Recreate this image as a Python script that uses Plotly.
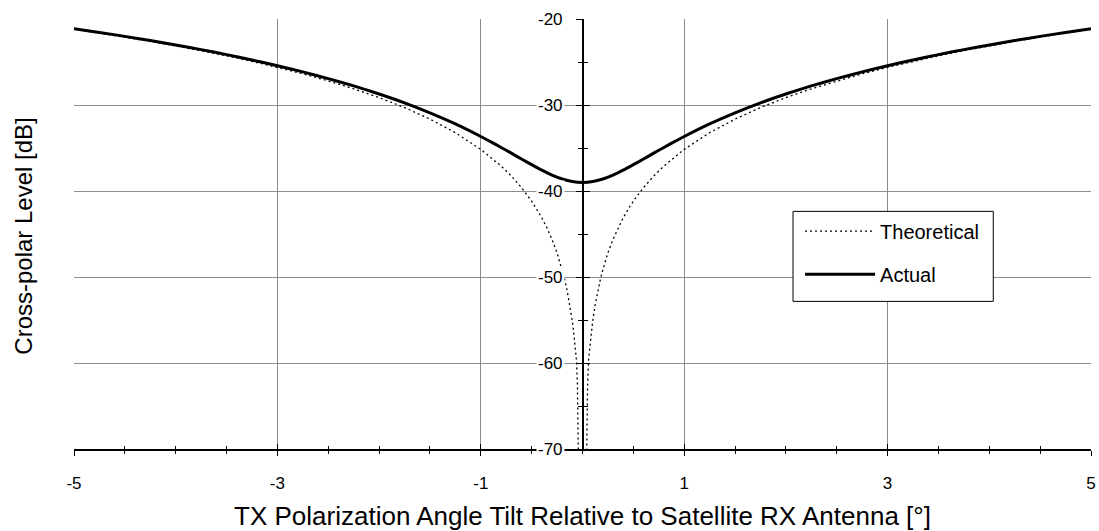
import plotly.graph_objects as go

# ---------------- data ----------------
angle_theoretical = [
    -5, -4.75, -4.5, -4.25, -4, -3.75, -3.5, -3.25, -3, -2.75, -2.5, -2.25, -2,
    -1.75, -1.5, -1.25, -1, -0.9, -0.8, -0.7, -0.6, -0.5, -0.45, -0.4, -0.35,
    -0.3, -0.25, -0.2, -0.175, -0.15, -0.125, -0.1, -0.09, -0.08, -0.07, -0.06,
    -0.05, -0.045, -0.04, -0.035,
    0,
    0.035, 0.04, 0.045, 0.05, 0.06, 0.07, 0.08, 0.09, 0.1,
    0.125, 0.15, 0.175, 0.2, 0.25, 0.3, 0.35, 0.4, 0.45, 0.5, 0.6, 0.7, 0.8,
    0.9, 1, 1.25, 1.5, 1.75, 2, 2.25, 2.5, 2.75, 3, 3.25, 3.5, 3.75, 4, 4.25,
    4.5, 4.75, 5,
]
level_theoretical = [
    -21.18, -21.63, -22.10, -22.59, -23.12, -23.68, -24.28, -24.92, -25.62,
    -26.37, -27.20, -28.12, -29.14, -30.30, -31.64, -33.22, -35.16, -36.08,
    -37.10, -38.26, -39.60, -41.18, -42.10, -43.12, -44.28, -45.62, -47.20,
    -49.14, -50.30, -51.64, -53.22, -55.16, -56.08, -57.10, -58.26, -59.60,
    -62.50, -66.00, -70.50, -76.00,
    None,
    -76.00, -70.50, -66.00, -62.50, -59.60, -58.26,
    -57.10, -56.08, -55.16, -53.22, -51.64, -50.30, -49.14, -47.20, -45.62,
    -44.28, -43.12, -42.10, -41.18, -39.60, -38.26, -37.10, -36.08, -35.16,
    -33.22, -31.64, -30.30, -29.14, -28.12, -27.20, -26.37, -25.62, -24.92,
    -24.28, -23.68, -23.12, -22.59, -22.10, -21.63, -21.18,
]

angle_actual = [
    -5, -4.75, -4.5, -4.25, -4, -3.75, -3.5, -3.25, -3, -2.75, -2.5, -2.25, -2,
    -1.75, -1.5, -1.25, -1, -0.9, -0.8, -0.7, -0.6, -0.5, -0.4, -0.3, -0.2,
    -0.1, 0, 0.1, 0.2, 0.3, 0.4, 0.5, 0.6, 0.7, 0.8, 0.9, 1, 1.25, 1.5, 1.75,
    2, 2.25, 2.5, 2.75, 3, 3.25, 3.5, 3.75, 4, 4.25, 4.5, 4.75, 5,
]
level_actual = [
    -21.12, -21.56, -22.02, -22.50, -23.02, -23.56, -24.14, -24.77, -25.43,
    -26.15, -26.93, -27.78, -28.72, -29.75, -30.91, -32.20, -33.66, -34.29,
    -34.94, -35.60, -36.28, -36.94, -37.58, -38.15, -38.60, -38.90, -39.00,
    -38.90, -38.60, -38.15, -37.58, -36.94, -36.28, -35.60, -34.94, -34.29,
    -33.66, -32.20, -30.91, -29.75, -28.72, -27.78, -26.93, -26.15, -25.43,
    -24.77, -24.14, -23.56, -23.02, -22.50, -22.02, -21.56, -21.12,
]

x_tick_values = [-5, -3, -1, 1, 3, 5]
x_tick_labels = ["-5", "-3", "-1", "1", "3", "5"]
y_tick_values = [-20, -30, -40, -50, -60, -70]
y_tick_labels = ["-20", "-30", "-40", "-50", "-60", "-70"]

series_names = ["Theoretical", "Actual"]
x_title = "TX Polarization Angle Tilt Relative to Satellite RX Antenna [°]"
y_title = "Cross-polar Level [dB]"

# ---------------- figure ----------------
FONT = "Liberation Sans, Arial, sans-serif"
GRID = "#8c8c8c"

fig = go.Figure()
fig.add_trace(go.Scatter(
    x=angle_theoretical, y=level_theoretical, name=series_names[0],
    mode="lines", line=dict(color="black", width=1.3, dash="2px,3px"),
    connectgaps=False, legendgroup="a", xaxis="x", yaxis="y",
))
fig.add_trace(go.Scatter(
    x=angle_actual, y=level_actual, name=series_names[1],
    mode="lines", line=dict(color="black", width=3, shape="spline", smoothing=0.6),
    legendgroup="b", xaxis="x2", yaxis="y2",
))

x_range = [-5, 5]
y_range = [-70, -20]

fig.update_layout(
    width=1099, height=531,
    margin=dict(l=74, r=8, t=19, b=82, autoexpand=False),
    paper_bgcolor="white", plot_bgcolor="white",
    font=dict(family=FONT, color="black", size=17),
    xaxis=dict(
        range=x_range, domain=[0, 1], anchor="y",
        tickmode="array", tickvals=x_tick_values, ticktext=x_tick_labels,
        ticks="outside", ticklen=5, tickwidth=1, tickcolor="black",
        minor=dict(tickmode="linear", tick0=-5, dtick=0.5, ticks="outside",
                   ticklen=3, tickwidth=1, tickcolor="black", showgrid=False),
        showline=True, linecolor="black", linewidth=2,
        showgrid=True, gridcolor=GRID, gridwidth=1, zeroline=False,
        tickfont=dict(size=17), ticklabelstandoff=13, ticklabeloverflow="allow",
        title=dict(text=x_title, font=dict(size=26), standoff=25),
        automargin=False, fixedrange=True,
    ),
    yaxis=dict(
        range=y_range, domain=[0, 1], anchor="free", position=0.5,
        tickmode="array", tickvals=y_tick_values,
        ticks="outside", ticklen=6, tickwidth=1, tickcolor="black",
        minor=dict(tickmode="linear", tick0=-70, dtick=5, ticks="outside",
                   ticklen=4, tickwidth=1, tickcolor="black", showgrid=False),
        showline=True, linecolor="black", linewidth=2,
        showgrid=True, gridcolor=GRID, gridwidth=1, zeroline=False,
        showticklabels=False, automargin=False, fixedrange=True,
    ),
    xaxis2=dict(
        range=x_range, overlaying="x", anchor="y2",
        tickmode="array", tickvals=x_tick_values,
        ticks="inside", ticklen=5, tickwidth=1, tickcolor="black",
        minor=dict(tickmode="linear", tick0=-5, dtick=0.5, ticks="inside",
                   ticklen=3, tickwidth=1, tickcolor="black", showgrid=False),
        showline=False, showgrid=False, zeroline=False, showticklabels=False,
        automargin=False, fixedrange=True,
    ),
    yaxis2=dict(
        range=y_range, overlaying="y", anchor="free", position=0.5,
        tickmode="array", tickvals=y_tick_values,
        ticks="inside", ticklen=6, tickwidth=1, tickcolor="black",
        minor=dict(tickmode="linear", tick0=-70, dtick=5, ticks="inside",
                   ticklen=4, tickwidth=1, tickcolor="black", showgrid=False),
        showline=False, showgrid=False, zeroline=False, showticklabels=False,
        automargin=False, fixedrange=True,
    ),
    legend=dict(
        x=0.7139, y=0.5519, xanchor="left", yanchor="top",
        bgcolor="rgba(0,0,0,0)", borderwidth=0,
        font=dict(size=20), itemwidth=70, traceorder="grouped",
        tracegroupgap=14,
    ),
    showlegend=True,
    shapes=[dict(
        type="rect", xref="paper", yref="paper",
        x0=0.7070, x1=0.9039, y0=0.3433, y1=0.5526,
        line=dict(color="black", width=1), fillcolor="white", layer="above",
    )],
)

annotations = []
for v, t in zip(y_tick_values, y_tick_labels):
    annotations.append(dict(
        x=0, y=v, xref="x", yref="y", text=t, showarrow=False,
        xanchor="right", yanchor="middle", xshift=-18,
        bgcolor="white", borderpad=1, font=dict(size=17),
    ))
annotations.append(dict(
    x=-0.0492, y=0.496, xref="paper", yref="paper", text=y_title,
    showarrow=False, textangle=-90, xanchor="center", yanchor="middle",
    font=dict(size=24),
))
fig.update_layout(annotations=annotations)

fig.write_html(
    "out.html",
    config={"displayModeBar": False},
    post_script="document.body.style.margin='0';document.body.style.overflow='hidden';",
)
